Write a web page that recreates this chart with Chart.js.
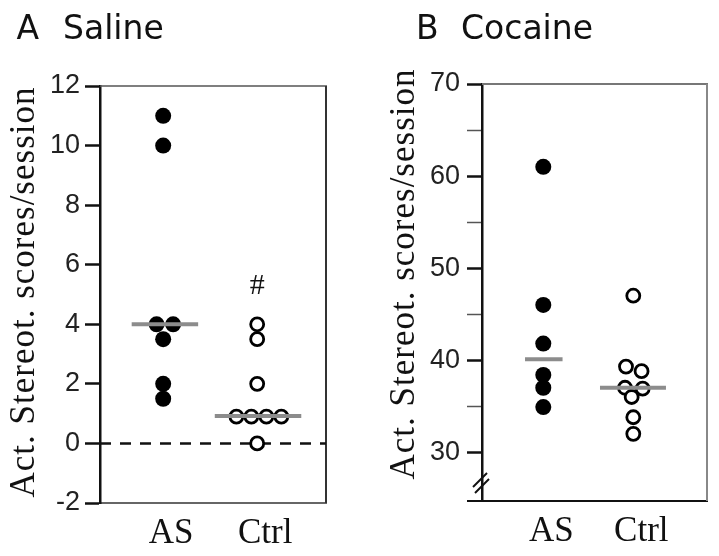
<!DOCTYPE html>
<html>
<head>
<meta charset="utf-8">
<script src="https://cdn.jsdelivr.net/npm/chart.js@4.4.0/dist/chart.umd.min.js"></script>
<style>
  body { margin: 0; background: #fff; }
  #wrap { position: relative; width: 719px; height: 556px; }
  canvas { position: absolute; top: 0; }
</style>
</head>
<body>
<div id="wrap">
  <canvas id="salineChart" width="360" height="556" style="left:0"></canvas>
  <canvas id="cocaineChart" width="359" height="556" style="left:360px"></canvas>
</div>
<script>
const groups = ['AS', 'Ctrl'];
const yTitle = 'Act. Stereot. scores/session';

// A - Saline
const salineTicks = [-2, 0, 2, 4, 6, 8, 10, 12];
const salineAS = [11, 10, 4, 4, 3.5, 2, 1.5];
const salineASx = [1, 1, 0.93, 1.106, 1, 1, 1];
const salineCtrl = [4, 3.5, 2, 0.9, 0.9, 0.9, 0.9, 0];
const salineCtrlx = [2, 2, 2, 1.779, 1.938, 2.098, 2.257, 2];
const salineMedian = [4, 0.92];
const salineMedianSpan = [[0.665, 1.372], [1.549, 2.469]];

// B - Cocaine
const cocaineTicks = [30, 35, 40, 45, 50, 55, 60, 65, 70];
const cocaineAS = [61, 46, 41.8, 38.4, 37, 34.9];
const cocaineASx = [1, 1, 1, 1, 1, 1];
const cocaineCtrl = [47, 39.3, 38.8, 37, 36.9, 36, 33.8, 32];
const cocaineCtrlx = [2, 1.919, 2.092, 1.908, 2.104, 1.982, 2, 2];
const cocaineMedian = [40.1, 37];
const cocaineMedianSpan = [[0.797, 1.214], [1.63, 2.363]];

const GREY = '#8c8c8c';

function pts(ys, xs) {
  return ys.map((y, i) => ({ x: xs[i], y: y }));
}

function line(ctx, x1, y1, x2, y2, color, w) {
  ctx.strokeStyle = color;
  ctx.lineWidth = w;
  ctx.beginPath();
  ctx.moveTo(x1, y1);
  ctx.lineTo(x2, y2);
  ctx.stroke();
}

// frame, panel title, y title, marks that are not data
const decor = {
  id: 'decor',
  beforeDatasetsDraw(chart, args, o) {
    const { ctx, chartArea: a } = chart;
    ctx.save();
    line(ctx, a.left, a.top, a.right + 1, a.top, o.topColor, o.topWidth);
    line(ctx, a.right, a.top, a.right, a.bottom, o.rightColor, 2);
    if (o.extendBottom) line(ctx, a.left - o.extendBottom, a.bottom, a.left, a.bottom, '#111', 2);
    ctx.restore();
  },
  afterDraw(chart, args, o) {
    const { ctx, scales } = chart;
    ctx.save();
    ctx.fillStyle = '#111';
    ctx.font = '33px "DejaVu Sans"';
    ctx.textAlign = 'left';
    ctx.textBaseline = 'alphabetic';
    ctx.fillText(o.letter, o.letterX, o.titleY);
    ctx.fillText(o.name, o.nameX, o.titleY);

    ctx.save();
    ctx.translate(o.yTitleX, o.yTitleY);
    ctx.rotate(-Math.PI / 2);
    ctx.font = '35px "Liberation Serif"';
    ctx.letterSpacing = '1px';
    ctx.textAlign = 'center';
    ctx.textBaseline = 'middle';
    ctx.fillText(yTitle, 0, 0);
    ctx.restore();

    if (o.hash) {
      ctx.font = '30px "Liberation Serif"';
      ctx.textAlign = 'center';
      ctx.textBaseline = 'middle';
      ctx.fillText(o.hash.text, scales.x.getPixelForValue(o.hash.x), scales.y.getPixelForValue(o.hash.y));
    }
    if (o.breakMark) {
      const b = o.breakMark;
      line(ctx, b[0], b[1] - 6, b[0] + 14, b[1] - 20, '#111', 2);
      line(ctx, b[0] + 2, b[1], b[0] + 16, b[1] - 14, '#111', 2);
    }
    ctx.restore();
  }
};

function buildChart(id, p) {
  const datasets = [];
  p.median.forEach((m, i) => {
    datasets.push({
      type: 'line',
      data: [{ x: p.span[i][0], y: m }, { x: p.span[i][1], y: m }],
      borderColor: GREY, borderWidth: 4, pointRadius: 0, order: 0
    });
  });
  datasets.push({
    type: 'scatter', data: pts(p.as, p.asx),
    backgroundColor: '#000', borderWidth: 0, pointRadius: 8, order: 1
  });
  datasets.push({
    type: 'scatter', data: pts(p.ctrl, p.ctrlx),
    backgroundColor: '#fff', borderColor: '#000', borderWidth: 2.8, pointRadius: 6.5, order: 1
  });
  if (p.zeroLine) {
    datasets.push({
      type: 'line',
      data: [{ x: p.xMin, y: 0 }, { x: p.xMax, y: 0 }],
      borderColor: '#111', borderWidth: 2.5, borderDash: [11, 9], pointRadius: 0, order: 2
    });
  }

  return new Chart(document.getElementById(id), {
    type: 'scatter',
    data: { datasets: datasets },
    plugins: [decor],
    options: {
      responsive: false,
      animation: false,
      events: [],
      layout: { padding: { left: 0, top: p.top, right: p.right, bottom: 0 } },
      plugins: {
        legend: { display: false },
        tooltip: { enabled: false },
        decor: p.decor
      },
      scales: {
        x: {
          type: 'linear', min: p.xMin, max: p.xMax,
          afterBuildTicks: s => { s.ticks = [{ value: 1 }, { value: 2 }]; },
          afterFit: s => { s.height = p.xHeight; },
          ticks: {
            callback: v => groups[v - 1],
            font: { family: 'Liberation Serif', size: 35, lineHeight: 1 },
            color: '#111', padding: 13, labelOffset: 8, maxRotation: 0, autoSkip: false
          },
          grid: { display: false, drawTicks: false },
          border: { color: p.bottomColor, width: 2 }
        },
        y: {
          min: p.yMin, max: p.yMax,
          afterBuildTicks: s => { s.ticks = p.ticks.map(v => ({ value: v })); },
          afterFit: s => { s.width = p.yWidth; },
          ticks: {
            callback: v => (p.labelEvery && v % p.labelEvery !== 0) ? '' : String(v),
            font: { family: 'Liberation Sans', size: 27 },
            color: '#222', padding: p.tickPad
          },
          grid: {
            drawOnChartArea: false, tickLength: 15,
            tickWidth: c => (p.labelEvery && c.tick && c.tick.value % p.labelEvery !== 0) ? 1.5 : 2.5,
            tickColor: c => (p.labelEvery && c.tick && c.tick.value % p.labelEvery !== 0) ? '#555' : '#111'
          },
          border: { color: '#111', width: 2.5 }
        }
      }
    }
  });
}

buildChart('salineChart', {
  as: salineAS, asx: salineASx, ctrl: salineCtrl, ctrlx: salineCtrlx,
  median: salineMedian, span: salineMedianSpan, ticks: salineTicks,
  yMin: -2, yMax: 12, xMin: 0.328, xMax: 2.732, zeroLine: true,
  top: 86, right: 34, xHeight: 53, yWidth: 100, tickPad: 5,
  bottomColor: '#666',
  decor: {
    letter: 'A', name: 'Saline', letterX: 16.5, nameX: 63, titleY: 39,
    yTitleX: 25, yTitleY: 292, topColor: '#555', topWidth: 1.5, rightColor: '#333',
    hash: { text: '#', x: 2, y: 5.28 }
  }
});

buildChart('cocaineChart', {
  as: cocaineAS, asx: cocaineASx, ctrl: cocaineCtrl, ctrlx: cocaineCtrlx,
  median: cocaineMedian, span: cocaineMedianSpan, ticks: cocaineTicks, labelEvery: 10,
  yMin: 24.7, yMax: 70, xMin: 0.319, xMax: 2.819, zeroLine: false,
  top: 84, right: 12, xHeight: 55, yWidth: 122, tickPad: 7,
  bottomColor: '#111',
  decor: {
    letter: 'B', name: 'Cocaine', letterX: 56, nameX: 101, titleY: 39,
    yTitleX: 45, yTitleY: 274, topColor: '#777', topWidth: 2, rightColor: '#888',
    extendBottom: 15, breakMark: [113, 493]
  }
});
</script>
</body>
</html>
